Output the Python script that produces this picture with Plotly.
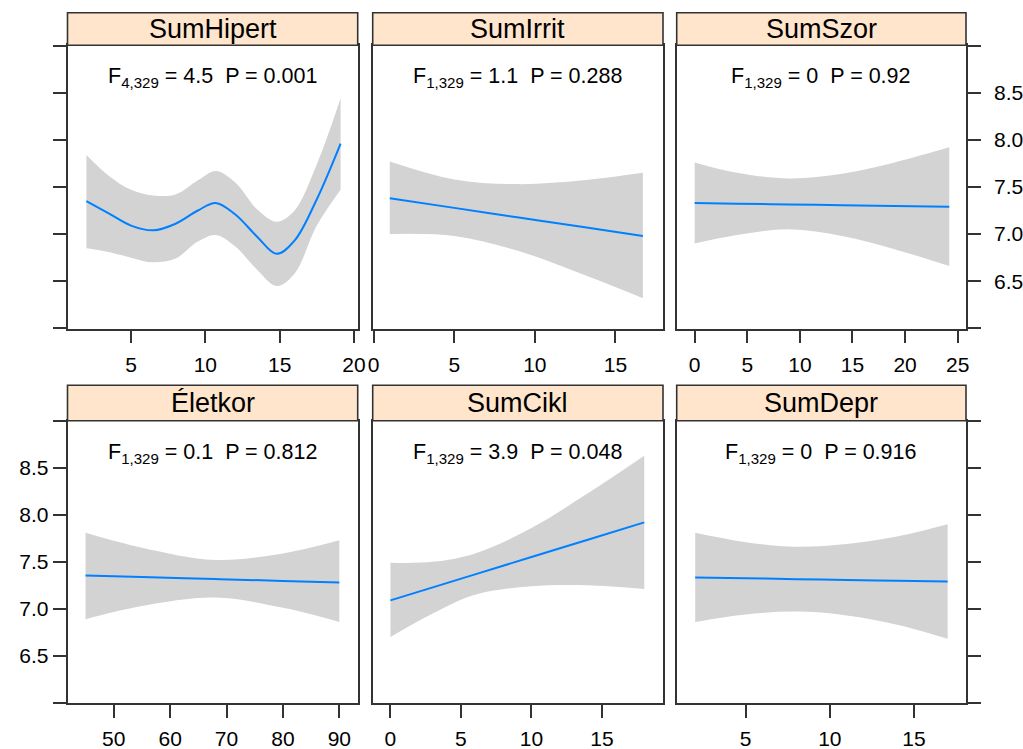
import plotly.graph_objects as go

W, H = 1023, 749

# ---------------- data ----------------
panel_titles = ["SumHipert", "SumIrrit", "SumSzor", "Életkor", "SumCikl", "SumDepr"]
stat_labels = [
    ("4,329", "4.5", "0.001"),
    ("1,329", "1.1", "0.288"),
    ("1,329", "0", "0.92"),
    ("1,329", "0.1", "0.812"),
    ("1,329", "3.9", "0.048"),
    ("1,329", "0", "0.916"),
]

hipert_x = [2, 3.5, 5, 6.5, 8, 9.5, 10.7, 12, 13.5, 14.8, 16, 17.5, 19.1]
hipert_fit = [7.35, 7.22, 7.09, 7.04, 7.11, 7.25, 7.33, 7.21, 6.97, 6.79, 6.93, 7.37, 7.96]
hipert_up = [7.84, 7.62, 7.47, 7.41, 7.42, 7.57, 7.67, 7.55, 7.26, 7.13, 7.25, 7.74, 8.44]
hipert_lo = [6.85, 6.81, 6.75, 6.70, 6.74, 6.92, 6.99, 6.87, 6.62, 6.45, 6.58, 7.09, 7.47]

irrit_x = [1, 5, 9, 13, 16.7]
irrit_fit = [7.38, 7.278, 7.176, 7.074, 6.98]
irrit_up = [7.77, 7.58, 7.53, 7.57, 7.65]
irrit_lo = [7.00, 6.98, 6.82, 6.57, 6.32]

szor_x = [0, 4, 9, 14, 19, 24.2]
szor_fit = [7.33, 7.323, 7.315, 7.307, 7.298, 7.29]
szor_up = [7.76, 7.65, 7.59, 7.64, 7.76, 7.92]
szor_lo = [6.90, 6.99, 7.05, 6.98, 6.84, 6.66]

kor_x = [45, 55, 68, 80, 90]
kor_fit = [7.355, 7.338, 7.317, 7.297, 7.28]
kor_up = [7.81, 7.65, 7.52, 7.59, 7.73]
kor_lo = [6.89, 7.03, 7.12, 7.01, 6.86]

cikl_x = [0, 3, 6, 10, 14, 18]
cikl_fit = [7.09, 7.228, 7.367, 7.551, 7.735, 7.92]
cikl_up = [7.49, 7.50, 7.59, 7.86, 8.23, 8.63]
cikl_lo = [6.70, 6.95, 7.15, 7.24, 7.25, 7.21]

depr_x = [2, 5, 8, 11, 14, 17]
depr_fit = [7.334, 7.325, 7.316, 7.308, 7.299, 7.29]
depr_up = [7.81, 7.71, 7.66, 7.69, 7.77, 7.90]
depr_lo = [6.86, 6.94, 6.97, 6.93, 6.83, 6.68]

x_ticks = [
    [5, 10, 15, 20],
    [0, 5, 10, 15],
    [0, 5, 10, 15, 20, 25],
    [50, 60, 70, 80, 90],
    [0, 5, 10, 15],
    [5, 10, 15],
]
y_tickvals = [6.5, 7.0, 7.5, 8.0, 8.5]
y_ticktext = ["6.5", "7.0", "7.5", "8.0", "8.5"]
y_edge_ticks = [6.0, 9.0]

# ---------------- layout geometry (pixels) ----------------
x_ranges = [[0.73, 20.25], [-0.06, 17.95], [-1.71, 25.79],
            [41.8, 93.26], [-1.26, 19.33], [0.9, 18.09]]
y_range = [5.997, 9.003]
cols_px = [(67.5, 357.7), (372.7, 663.0), (676.7, 966.0)]
rows_px = [  # (strip_top, plot_top, plot_bottom)
    (12.7, 45.3, 328.6),
    (385.3, 420.7, 703.0),
]

FONT = "Liberation Sans, Arial, sans-serif"
AXC = "#333333"
BAND = "#D3D3D3"
LINE = "#0080FF"
TICK_FS = 21
STRIP_FS = 27
STAT_FS = 21.5

panels = [
    (hipert_x, hipert_fit, hipert_up, hipert_lo),
    (irrit_x, irrit_fit, irrit_up, irrit_lo),
    (szor_x, szor_fit, szor_up, szor_lo),
    (kor_x, kor_fit, kor_up, kor_lo),
    (cikl_x, cikl_fit, cikl_up, cikl_lo),
    (depr_x, depr_fit, depr_up, depr_lo),
]

def px2fx(px):
    return px / W

def py2fy(py):
    return 1 - py / H

fig = go.Figure()
layout = dict(
    width=W, height=H,
    margin=dict(l=0, r=0, t=0, b=0, pad=0, autoexpand=False),
    paper_bgcolor="white", plot_bgcolor="white",
    showlegend=False,
    font=dict(family=FONT, size=TICK_FS, color="black"),
)
shapes = []
annotations = []

for i, (xs, fit, up, lo) in enumerate(panels):
    r, c = divmod(i, 3)
    n = i + 1
    xa = "x" if n == 1 else f"x{n}"
    ya = "y" if n == 1 else f"y{n}"
    xkey = "xaxis" if n == 1 else f"xaxis{n}"
    ykey = "yaxis" if n == 1 else f"yaxis{n}"
    x0, x1 = cols_px[c]
    st, pt, pb = rows_px[r]

    fig.add_trace(go.Scatter(x=xs, y=lo, xaxis=xa, yaxis=ya, mode="lines",
                             line=dict(width=0, shape="spline", color=BAND),
                             hoverinfo="skip"))
    fig.add_trace(go.Scatter(x=xs, y=up, xaxis=xa, yaxis=ya, mode="lines",
                             line=dict(width=0, shape="spline", color=BAND),
                             fill="tonexty", fillcolor=BAND, hoverinfo="skip"))
    fig.add_trace(go.Scatter(x=xs, y=fit, xaxis=xa, yaxis=ya, mode="lines",
                             line=dict(width=2, shape="spline", color=LINE),
                             hoverinfo="skip"))

    layout[xkey] = dict(
        domain=[px2fx(x0), px2fx(x1)], range=x_ranges[i], anchor=ya,
        automargin=False,
        showgrid=False, zeroline=False, showline=True, mirror=True,
        linecolor=AXC, linewidth=1.6,
        ticks="outside", ticklen=13, tickwidth=1.6, tickcolor=AXC,
        tickmode="array", tickvals=x_ticks[i],
        ticktext=[str(v) for v in x_ticks[i]],
        ticklabelstandoff=3,
        tickfont=dict(family=FONT, size=TICK_FS, color="black"),
        fixedrange=True,
    )
    ycfg = dict(
        domain=[py2fy(pb), py2fy(pt)], range=y_range, anchor=xa,
        automargin=False,
        showgrid=False, zeroline=False, showline=True, mirror=True,
        linecolor=AXC, linewidth=1.6,
        tickfont=dict(family=FONT, size=TICK_FS, color="black"),
        fixedrange=True,
    )
    if c == 0 or c == 2:
        labelled = (r == 0 and c == 2) or (r == 1 and c == 0)
        ycfg.update(
            side="left" if c == 0 else "right",
            ticks="outside", ticklen=13, tickwidth=1.6, tickcolor=AXC,
            tickmode="array", tickvals=y_tickvals, ticktext=y_ticktext,
            showticklabels=labelled,
            ticklabelstandoff=0 if c == 0 else 9,
            minor=dict(tickmode="array", tickvals=y_edge_ticks, ticks="outside",
                       ticklen=13, tickwidth=1.6, tickcolor=AXC, showgrid=False),
        )
    else:
        ycfg.update(ticks="", showticklabels=False)
    layout[ykey] = ycfg

    # strip
    shapes.append(dict(type="rect", xref="paper", yref="paper",
                       x0=px2fx(x0), x1=px2fx(x1), y0=py2fy(pt), y1=py2fy(st),
                       fillcolor="#FFE5CC", line=dict(color=AXC, width=1.6),
                       layer="above"))
    annotations.append(dict(xref="paper", yref="paper",
                            x=px2fx((x0 + x1) / 2), y=py2fy((st + pt) / 2),
                            text=panel_titles[i], showarrow=False,
                            xanchor="center", yanchor="middle",
                            font=dict(family=FONT, size=STRIP_FS, color="black")))
    df, fval, pval = stat_labels[i]
    annotations.append(dict(xref="paper", yref="paper",
                            x=px2fx((x0 + x1) / 2), y=py2fy(pt + 32.5),
                            text=f"F<sub>{df}</sub> = {fval}  P = {pval}",
                            showarrow=False, xanchor="center", yanchor="middle",
                            font=dict(family=FONT, size=STAT_FS, color="black")))

layout["shapes"] = shapes
layout["annotations"] = annotations
fig.update_layout(**layout)
fig.write_html(
    "out.html",
    config={"displayModeBar": False},
    post_script="document.body.style.margin='0';document.body.style.overflow='hidden';",
)
